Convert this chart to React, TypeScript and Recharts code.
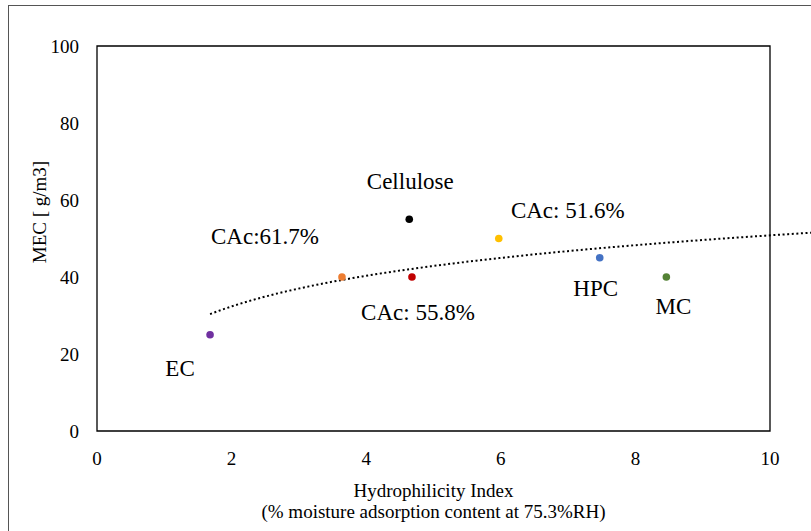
import React from 'react';
import { ScatterChart, Scatter, XAxis, YAxis, ReferenceArea, Cell, LabelList } from 'recharts';

// ---- data ----
const names = ['EC', 'CAc:61.7%', 'Cellulose', 'CAc: 55.8%', 'CAc: 51.6%', 'HPC', 'MC'];
const xValues = [1.68, 3.64, 4.64, 4.68, 5.97, 7.47, 8.46];
const yValues = [25, 40, 55, 40, 50, 45, 40];
const xTicks = [0, 2, 4, 6, 8, 10];
const yTicks = [0, 20, 40, 60, 80, 100];

// ---- style ----
const colors = ['#7030A0', '#ED7D31', '#000000', '#C00000', '#FFC000', '#4472C4', '#548235'];
const labelOffsets = [
  [-30, 34],
  [-77, -41],
  [1, -38],
  [6, 35],
  [69, -28],
  [-4, 31],
  [7, 29],
];
const FONT = '"Liberation Serif", "Times New Roman", serif';
const W = 811;
const H = 531;
const PLOT_LEFT = 97;
const PLOT_RIGHT_AT_10 = 770;
const XMAX = (10 * (W - PLOT_LEFT)) / (PLOT_RIGHT_AT_10 - PLOT_LEFT);

const points = names.map((n, i) => ({ name: n, x: xValues[i], y: yValues[i], idx: i }));

// logarithmic least-squares trendline fitted to the points (as the original chart's trendline)
const lx = xValues.map((v) => Math.log(v));
const mlx = lx.reduce((a, b) => a + b, 0) / lx.length;
const my = yValues.reduce((a, b) => a + b, 0) / yValues.length;
const slope =
  lx.reduce((s, v, i) => s + (v - mlx) * (yValues[i] - my), 0) /
  lx.reduce((s, v) => s + (v - mlx) * (v - mlx), 0);
const intercept = my - slope * mlx;
const xStart = Math.min(...xValues);
const trend = Array.from({ length: 80 }, (_, i) => {
  const x = xStart + ((XMAX - xStart) * i) / 79;
  return { x, y: intercept + slope * Math.log(x) };
});

const textStyle = { fontFamily: FONT };

const renderLabel = (props: any) => {
  const { x, y, width, height, index } = props;
  const cx = x + width / 2;
  const cy = y + height / 2;
  const [dx, dy] = labelOffsets[index];
  return (
    <text
      x={cx + dx}
      y={cy + dy}
      textAnchor="middle"
      dominantBaseline="central"
      style={textStyle}
      fontSize={23}
      fill="#000"
    >
      {names[index]}
    </text>
  );
};

const XTitle = (props: any) => {
  const vb = props.viewBox;
  const cx = vb.x + (vb.width * 10) / XMAX / 2;
  return (
    <g>
      <text x={cx} y={490} textAnchor="middle" dominantBaseline="central" style={textStyle} fontSize={19} fill="#000">
        Hydrophilicity Index
      </text>
      <text x={cx} y={511} textAnchor="middle" dominantBaseline="central" style={textStyle} fontSize={19} fill="#000">
        (% moisture adsorption content at 75.3%RH)
      </text>
    </g>
  );
};

const YTitle = () => (
  <text
    x={39}
    y={212}
    transform="rotate(-90 39 212)"
    textAnchor="middle"
    dominantBaseline="central"
    style={textStyle}
    fontSize={19}
    fill="#000"
  >
    MEC [ g/m3]
  </text>
);

export default function App() {
  return (
    <div style={{ position: 'absolute', left: 0, top: 0, width: W, height: H, overflow: 'hidden', background: '#fff' }}>
      <div
        style={{
          position: 'absolute',
          left: 8,
          top: 5,
          width: 900,
          height: 700,
          border: '1.5px solid #555',
          boxSizing: 'border-box',
        }}
      />
      <div style={{ position: 'absolute', left: 0, top: 0 }}>
        <ScatterChart width={W} height={H} margin={{ top: 46, right: 0, bottom: 0, left: 0 }}>
          <XAxis
            type="number"
            dataKey="x"
            domain={[0, XMAX]}
            allowDataOverflow
            ticks={xTicks}
            axisLine={false}
            tickLine={false}
            tickSize={0}
            tickMargin={21}
            height={100}
            tick={{ style: textStyle, fontSize: 19, fill: '#000' }}
            label={{ content: <XTitle /> }}
          />
          <YAxis
            type="number"
            dataKey="y"
            domain={[0, 100]}
            ticks={yTicks}
            axisLine={false}
            tickLine={false}
            tickSize={0}
            tickMargin={18}
            width={PLOT_LEFT}
            tick={{ style: textStyle, fontSize: 19, fill: '#000' }}
            label={{ content: <YTitle /> }}
          />
          <ReferenceArea x1={0} x2={10} y1={0} y2={100} fill="none" fillOpacity={0} stroke="#000" strokeWidth={1.3} />
          <Scatter
            data={trend}
            isAnimationActive={false}
            line={{ stroke: '#000', strokeWidth: 2, strokeDasharray: '2 2.6' }}
            lineType="joint"
            shape={() => <g />}
          />
          <Scatter data={points} isAnimationActive={false} shape={(p: any) => <circle cx={p.cx} cy={p.cy} r={3.8} fill={p.fill} />}>
            {points.map((p, i) => (
              <Cell key={p.name} fill={colors[i]} />
            ))}
            <LabelList dataKey="name" content={renderLabel} />
          </Scatter>
        </ScatterChart>
      </div>
    </div>
  );
}
